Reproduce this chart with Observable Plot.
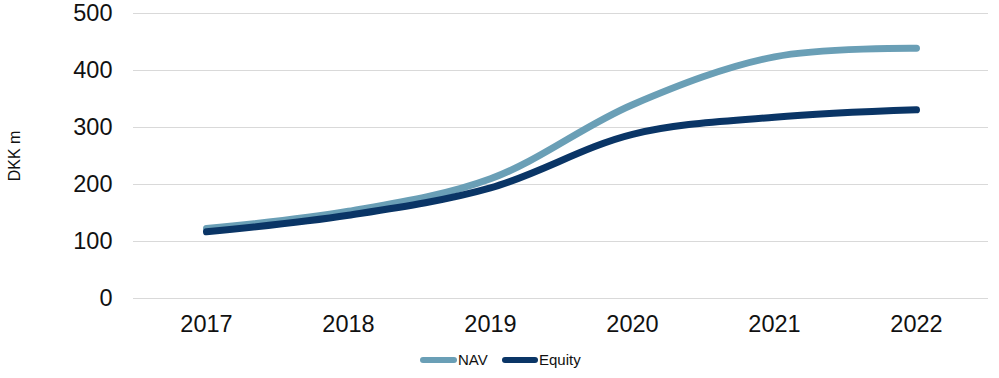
<!DOCTYPE html>
<html>
<head>
<meta charset="utf-8">
<script src="https://cdn.jsdelivr.net/npm/d3@7"></script>
<script src="https://cdn.jsdelivr.net/npm/@observablehq/plot@0.6"></script>
<style>
  body { margin: 0; background: #fff; font-family: "Liberation Sans", Arial, sans-serif; }
  #wrap { position: relative; width: 999px; height: 378px; }
  #legend { position: absolute; left: 0; top: 348px; width: 999px; height: 26px; }
  .lg { position: absolute; top: 0; font-size: 15px; color: #111; line-height: 24px; }
  .sw { position: absolute; top: 9px; height: 6px; border-radius: 3px; }
</style>
</head>
<body>
<div id="wrap">
  <div id="chart"></div>
  <div id="legend"></div>
</div>
<script>
const years = ["2017", "2018", "2019", "2020", "2021", "2022"];
const navValues = [123, 153, 210, 340, 424, 439];
const equityValues = [117, 146, 194, 288, 318, 331];
const seriesNames = ["NAV", "Equity"];
const seriesColors = ["#6a9fb6", "#0a3566"];
const yTicks = [0, 100, 200, 300, 400, 500];

const rows = [];
years.forEach((y, i) => {
  rows.push({year: y, value: navValues[i], series: "NAV"});
  rows.push({year: y, value: equityValues[i], series: "Equity"});
});

const chart = Plot.plot({
  width: 999,
  height: 345,
  marginLeft: 133,
  marginRight: 11,
  marginTop: 13,
  marginBottom: 47,
  style: { fontFamily: "'Liberation Sans', Arial, sans-serif", fontSize: "23.5px", color: "#111", background: "#fff" },
  x: { type: "point", domain: years, padding: 0.5, label: null },
  y: { domain: [0, 500], ticks: yTicks, label: null },
  color: { domain: seriesNames, range: seriesColors },
  marks: [
    Plot.gridY(yTicks, { stroke: "#d9d9d9", strokeOpacity: 1, strokeWidth: 1 }),
    Plot.axisY(yTicks, { tickSize: 0, tickPadding: 21, fontSize: 23.5, label: null }),
    Plot.axisX({ tickSize: 0, tickPadding: 17, fontSize: 23.5, label: null }),
    Plot.line(rows, {
      x: "year", y: "value", stroke: "series", z: "series",
      curve: "catmull-rom", strokeWidth: 7, strokeLinecap: "round", strokeLinejoin: "round"
    }),
    Plot.text(["DKK m"], { frameAnchor: "left", textAnchor: "middle", dx: -119, text: d => d, rotate: -90, fontSize: 16, fill: "#111" })
  ]
});
document.getElementById("chart").appendChild(chart);

const legend = document.getElementById("legend");
const items = [
  { name: seriesNames[0], color: seriesColors[0], sx: 420, sw: 37, tx: 458 },
  { name: seriesNames[1], color: seriesColors[1], sx: 502, sw: 36, tx: 539 }
];
items.forEach(it => {
  const s = document.createElement("div");
  s.className = "sw"; s.style.left = it.sx + "px"; s.style.width = it.sw + "px"; s.style.background = it.color;
  legend.appendChild(s);
  const t = document.createElement("div");
  t.className = "lg"; t.style.left = it.tx + "px"; t.textContent = it.name;
  legend.appendChild(t);
});
</script>
</body>
</html>
